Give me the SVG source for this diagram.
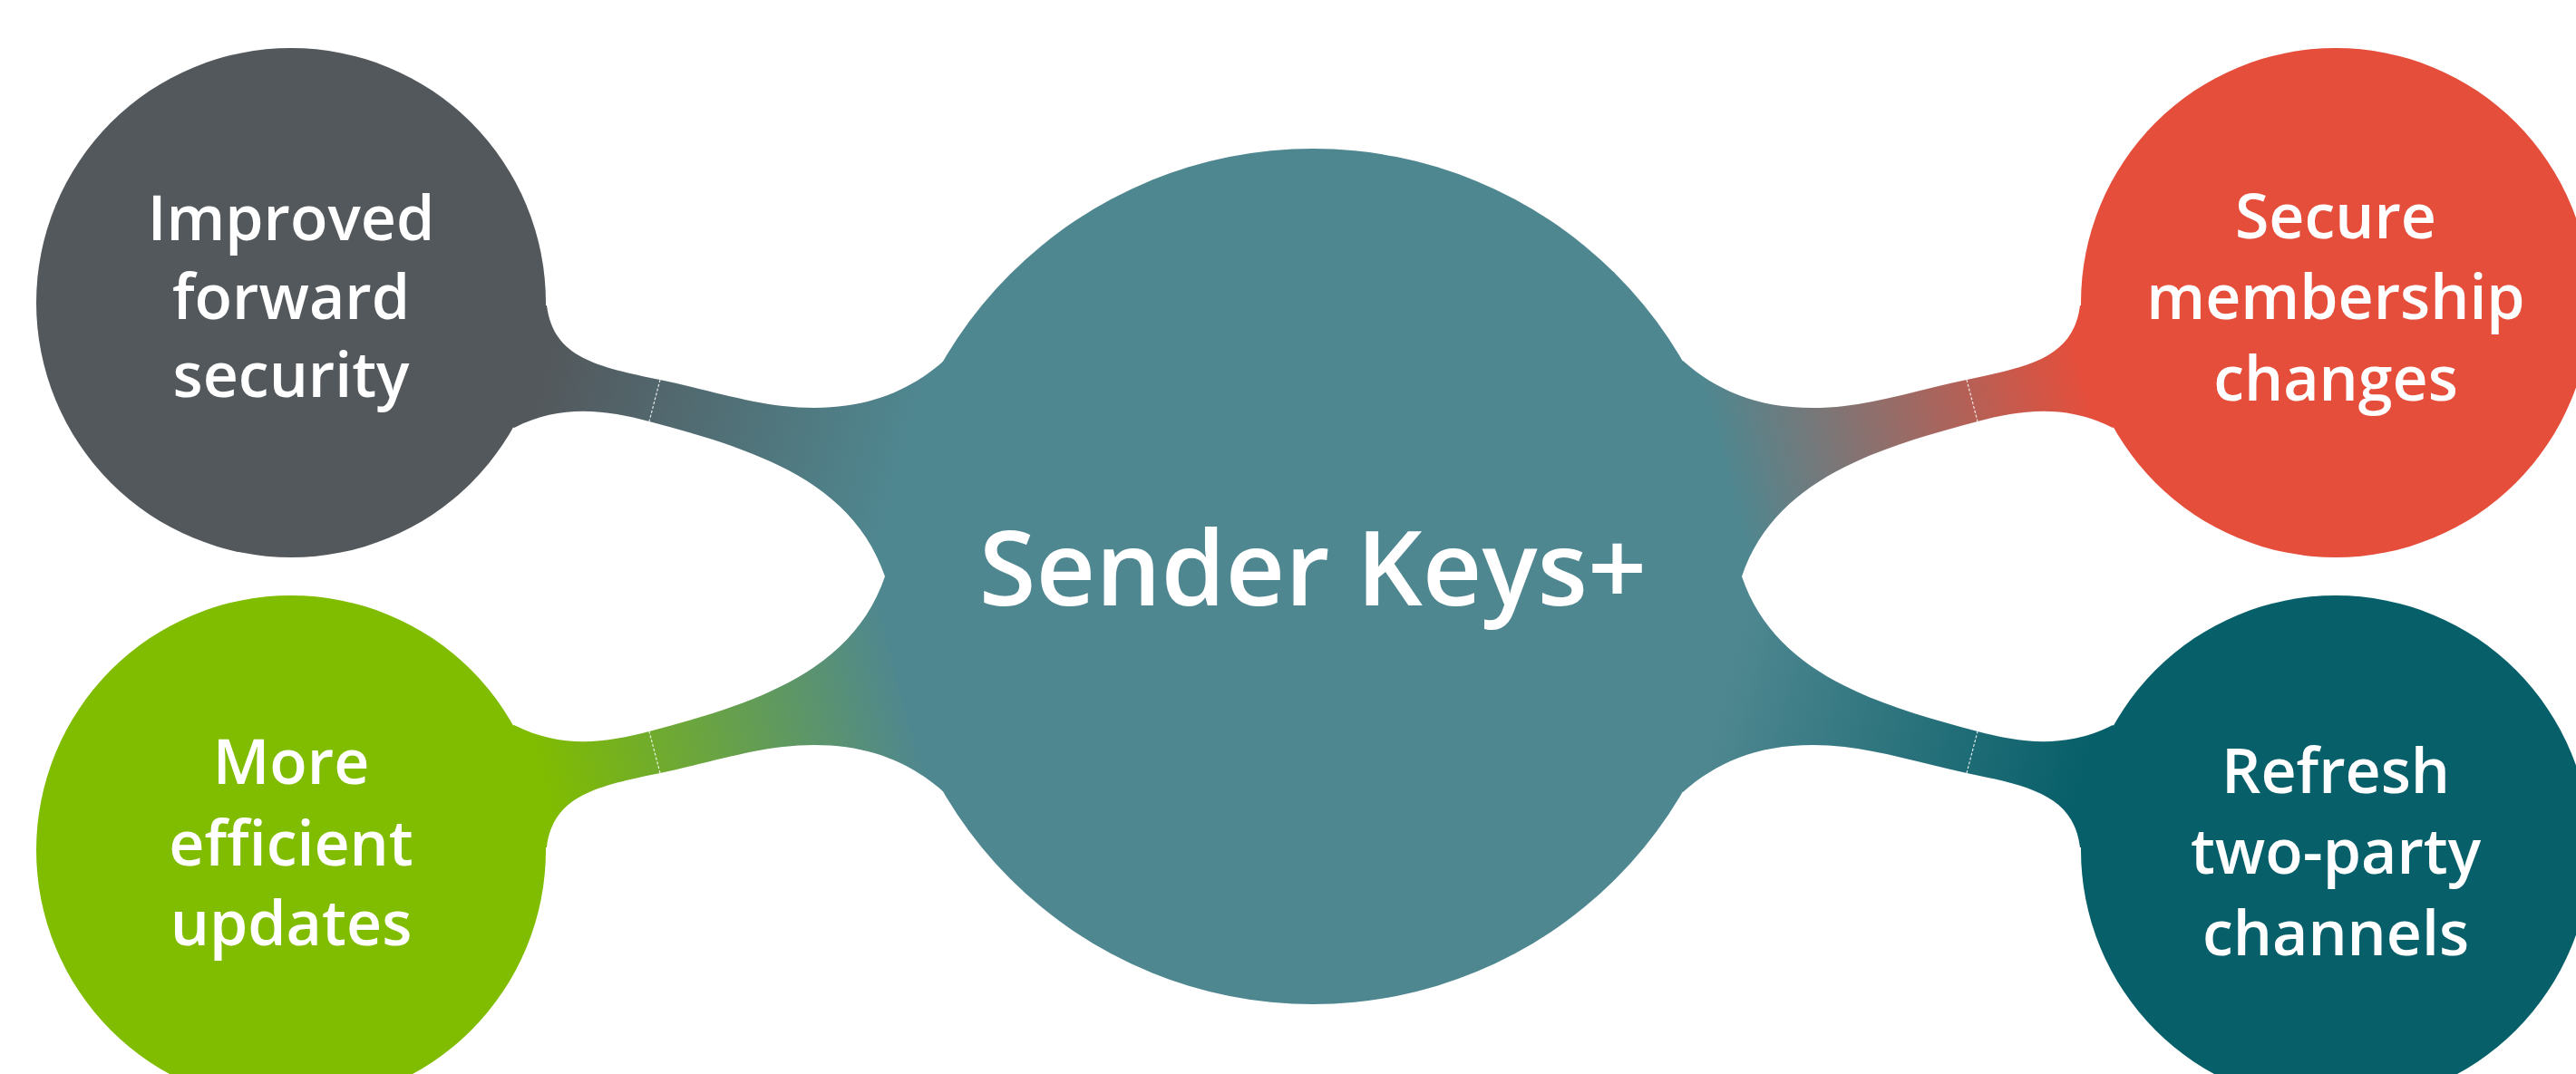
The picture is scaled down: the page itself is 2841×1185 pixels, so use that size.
<svg xmlns="http://www.w3.org/2000/svg" width="2841" height="1185" viewBox="0 0 2841 1185">
  <style>
    .lbl { font-family: "Open Sans", "Noto Sans", "Liberation Sans", sans-serif; font-weight: 600; fill: #ffffff; text-anchor: middle; }
    .sat { font-size: 68px; }
    .main { font-size: 114px; }
    .seam { stroke: #ffffff; stroke-width: 1.2; stroke-dasharray: 3 2; fill: none; opacity: 0.85; }
  </style>
  <defs>
    <path id="neck" d="M 321,334 L 603,337 C 610,395 660,405 728,419 C 790,432 840,450 898,450 C 960,450 1005,430 1041,398 L 1448,636 L 976,636 C 940,530 830,495 716,465 C 670,453 620,445 567,472 Z"/>
    <linearGradient id="gGrey" gradientUnits="userSpaceOnUse" x1="600" y1="409" x2="995" y2="515">
      <stop offset="0" stop-color="#53585c"/>
      <stop offset="1" stop-color="#4f8790"/>
    </linearGradient>
    <linearGradient id="gGreen" gradientUnits="userSpaceOnUse" x1="600" y1="409" x2="995" y2="515">
      <stop offset="0" stop-color="#80bc00"/>
      <stop offset="1" stop-color="#4f8790"/>
    </linearGradient>
    <linearGradient id="gRed" gradientUnits="userSpaceOnUse" x1="600" y1="409" x2="995" y2="515">
      <stop offset="0" stop-color="#e54e3b"/>
      <stop offset="1" stop-color="#4f8790"/>
    </linearGradient>
    <linearGradient id="gDark" gradientUnits="userSpaceOnUse" x1="600" y1="409" x2="995" y2="515">
      <stop offset="0" stop-color="#075f69"/>
      <stop offset="1" stop-color="#4f8790"/>
    </linearGradient>
  </defs>

  <rect x="0" y="0" width="2841" height="1185" fill="#ffffff"/>

  <g id="connectors">
    <g id="conn-forward">
      <use href="#neck" fill="url(#gGrey)"/>
      <line class="seam" x1="728" y1="419" x2="716" y2="465"/>
    </g>
    <g id="conn-efficient" transform="translate(0,1272) scale(1,-1)">
      <use href="#neck" fill="url(#gGreen)"/>
      <line class="seam" x1="728" y1="419" x2="716" y2="465"/>
    </g>
    <g id="conn-membership" transform="translate(2897,0) scale(-1,1)">
      <use href="#neck" fill="url(#gRed)"/>
      <line class="seam" x1="728" y1="419" x2="716" y2="465"/>
    </g>
    <g id="conn-twoparty" transform="translate(2897,1272) scale(-1,-1)">
      <use href="#neck" fill="url(#gDark)"/>
      <line class="seam" x1="728" y1="419" x2="716" y2="465"/>
    </g>
  </g>

  <g id="node-center">
    <circle cx="1448" cy="636" r="472" fill="#4f8790"/>
    <text class="lbl main" x="1448" y="668">Sender Keys+</text>
  </g>

  <g id="node-forward">
    <circle cx="321" cy="334" r="281" fill="#53585c"/>
    <text class="lbl sat" x="321" y="265">Improved</text>
    <text class="lbl sat" x="321" y="352">forward</text>
    <text class="lbl sat" x="321" y="438">security</text>
  </g>

  <g id="node-efficient">
    <circle cx="321" cy="938" r="281" fill="#80bc00"/>
    <text class="lbl sat" x="321" y="865">More</text>
    <text class="lbl sat" x="321" y="955">efficient</text>
    <text class="lbl sat" x="321" y="1043">updates</text>
  </g>

  <g id="node-membership">
    <circle cx="2576" cy="334" r="281" fill="#e54e3b"/>
    <text class="lbl sat" x="2576" y="263">Secure</text>
    <text class="lbl sat" x="2576" y="352">membership</text>
    <text class="lbl sat" x="2576" y="442">changes</text>
  </g>

  <g id="node-twoparty">
    <circle cx="2576" cy="938" r="281" fill="#075f69"/>
    <text class="lbl sat" x="2576" y="875">Refresh</text>
    <text class="lbl sat" x="2576" y="964">two-party</text>
    <text class="lbl sat" x="2576" y="1054">channels</text>
  </g>
</svg>
